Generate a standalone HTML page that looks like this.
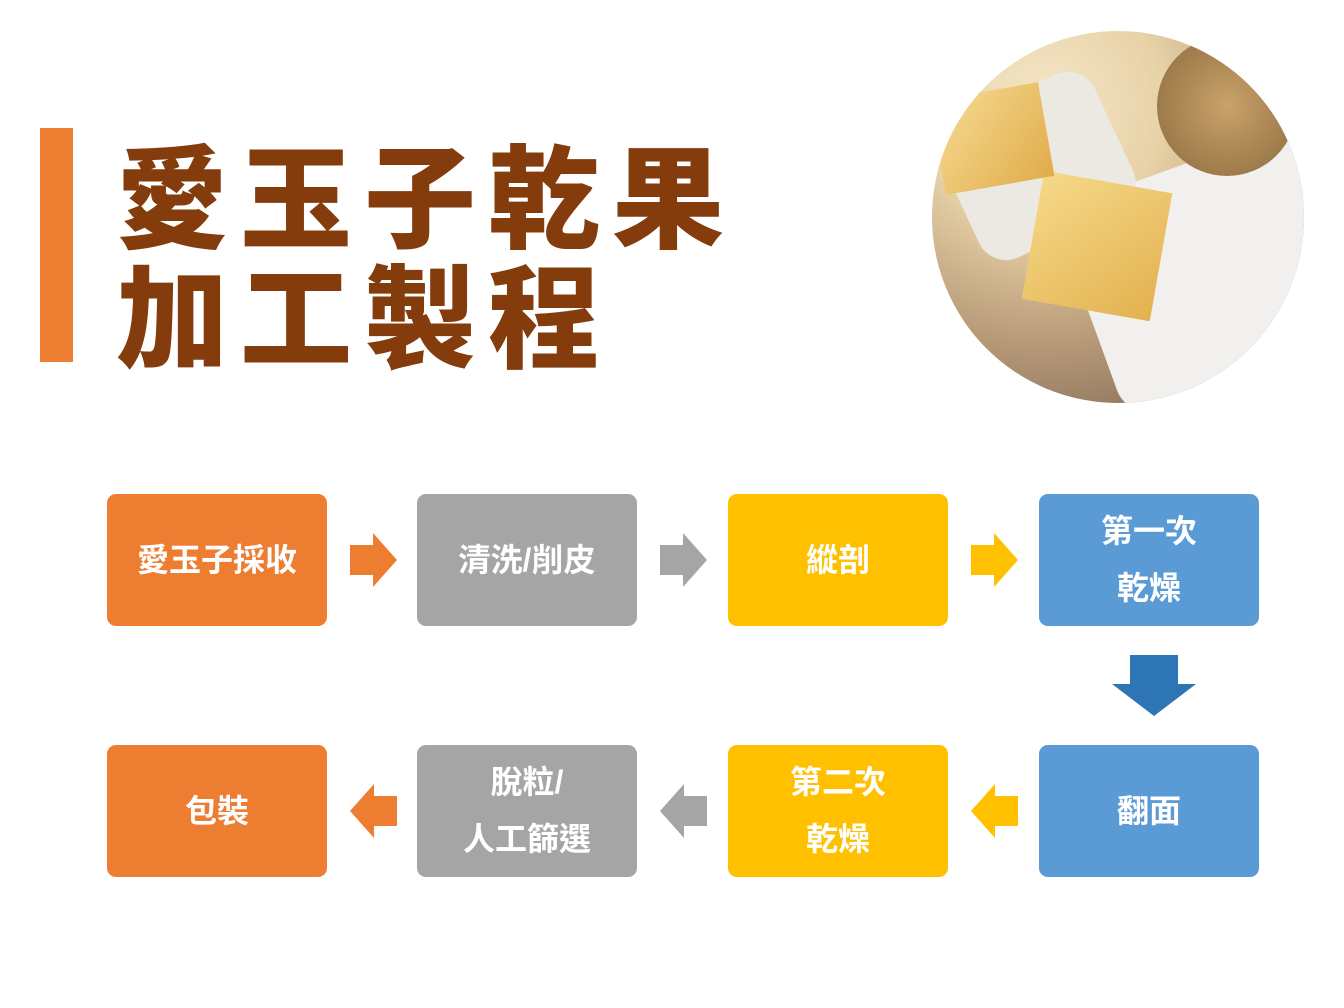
<!DOCTYPE html>
<html><head><meta charset="utf-8"><style>
body{margin:0;width:1344px;height:1008px;background:#fff;position:relative;overflow:hidden;font-family:"Liberation Sans","Noto Sans CJK TC",sans-serif}
.bar{position:absolute;left:40px;top:128px;width:33px;height:234px;background:#ED7D31}
.t{position:absolute;left:116px;font-family:"Noto Sans CJK TC",sans-serif;font-weight:900;font-size:112px;letter-spacing:12px;color:#843C0C;line-height:1;white-space:nowrap}
.b{position:absolute;width:220px;height:132px;border-radius:9px;color:#fff;font-weight:700;font-size:32px;display:flex;align-items:center;justify-content:center;text-align:center;line-height:57px;font-family:"Liberation Sans","Noto Sans CJK TC",sans-serif}
.o{background:#ED7D31}.g{background:#A5A5A5}.y{background:#FFC000}.bl{background:#5B9BD5}
svg{position:absolute}
</style></head><body>
<div class="bar"></div>
<div class="t" style="top:135px">愛玉子乾果</div>
<div class="t" style="top:255px">加工製程</div>
<div style="position:absolute;left:932px;top:31px;width:372px;height:372px;border-radius:50%;overflow:hidden;background:radial-gradient(circle at 30% 20%,#f5e6c8 0,#e8d3a8 30%,#b89a78 60%,#6d5a4a 100%)">
<div style="position:absolute;left:150px;top:130px;width:260px;height:220px;background:#f2f0ee;transform:rotate(-20deg);border-radius:30px"></div>
<div style="position:absolute;left:20px;top:60px;width:170px;height:150px;background:#ece8e2;transform:rotate(-25deg);border-radius:30px"></div>
<div style="position:absolute;left:100px;top:150px;width:130px;height:130px;background:linear-gradient(135deg,#f6d98a,#e3b14f);transform:rotate(10deg)"></div>
<div style="position:absolute;left:5px;top:60px;width:110px;height:95px;background:linear-gradient(135deg,#f7dc95,#e0ac4a);transform:rotate(-10deg)"></div>
<div style="position:absolute;left:225px;top:5px;width:140px;height:140px;border-radius:50%;background:radial-gradient(#c9a26a,#8b6a3d)"></div>
</div>

<div class="b o" style="left:107px;top:494px">愛玉子採收</div>
<div class="b g" style="left:417px;top:494px">清洗/削皮</div>
<div class="b y" style="left:728px;top:494px">縱剖</div>
<div class="b bl" style="left:1039px;top:494px">第一次<br>乾燥</div>
<div class="b o" style="left:107px;top:745px">包裝</div>
<div class="b g" style="left:417px;top:745px">脫粒/<br>人工篩選</div>
<div class="b y" style="left:728px;top:745px">第二次<br>乾燥</div>
<div class="b bl" style="left:1039px;top:745px">翻面</div>

<svg width="1344" height="1008" style="left:0;top:0">
<polygon points="350,545 373,545 373,533 397,560 373,587 373,575 350,575" fill="#ED7D31"/>
<polygon points="660,545 683,545 683,533 707,560 683,587 683,575 660,575" fill="#A5A5A5"/>
<polygon points="971,545 994,545 994,533 1018,560 994,587 994,575 971,575" fill="#FFC000"/>
<polygon points="1130,655 1178,655 1178,684 1196,684 1154,716 1112,684 1130,684" fill="#2E75B6"/>
<polygon points="1018,796 995,796 995,784 971,811 995,838 995,826 1018,826" fill="#FFC000"/>
<polygon points="707,796 684,796 684,784 660,811 684,838 684,826 707,826" fill="#A5A5A5"/>
<polygon points="397,796 374,796 374,784 350,811 374,838 374,826 397,826" fill="#ED7D31"/>
</svg>
</body></html>
